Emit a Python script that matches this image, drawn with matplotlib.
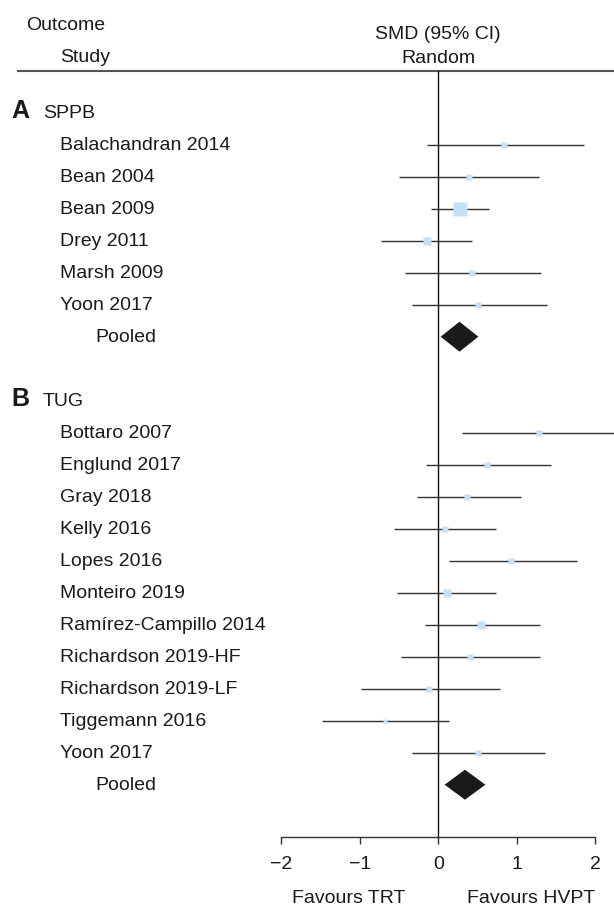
import matplotlib.pyplot as plt
import numpy as np

plt.rcParams['font.family'] = ['Liberation Sans', 'DejaVu Sans']

# SPPB outcome (panel A)
sppb_studies = ['Balachandran 2014', 'Bean 2004', 'Bean 2009', 'Drey 2011',
                'Marsh 2009', 'Yoon 2017']
sppb_smd = [0.84, 0.39, 0.28, -0.15, 0.43, 0.51]
sppb_lo = [-0.15, -0.50, -0.09, -0.73, -0.42, -0.34]
sppb_hi = [1.85, 1.28, 0.65, 0.43, 1.31, 1.39]
sppb_weight = [7.1, 8.5, 53.0, 15.1, 11.5, 7.1]
sppb_pooled = [0.27, 0.03, 0.51]

# TUG outcome (panel B)
tug_studies = ['Bottaro 2007', 'Englund 2017', 'Gray 2018', 'Kelly 2016',
               'Lopes 2016', 'Monteiro 2019', 'Ramírez-Campillo 2014',
               'Richardson 2019-HF', 'Richardson 2019-LF', 'Tiggemann 2016',
               'Yoon 2017']
tug_smd = [1.28, 0.62, 0.37, 0.09, 0.93, 0.11, 0.55, 0.40, -0.12, -0.68, 0.51]
tug_lo = [0.30, -0.16, -0.27, -0.56, 0.14, -0.52, -0.17, -0.48, -0.98, -1.48, -0.34]
tug_hi = [2.30, 1.43, 1.05, 0.73, 1.77, 0.74, 1.30, 1.29, 0.78, 0.14, 1.36]
tug_weight = [8.5, 11.5, 10.0, 10.0, 10.0, 13.3, 13.3, 10.0, 8.5, 4.8, 8.5]
tug_pooled = [0.34, 0.08, 0.60]

x_ticks = [-2, -1, 0, 1, 2]

W, H = 614, 917
ZERO_PX = 438.3   # pixel column of SMD = 0
UNIT_PX = 78.5    # pixels per SMD unit
ROW0 = 112.7      # first header row (pixels from top)
ROW_H = 32        # row spacing
AXIS_Y = 836.7
TEXT_C = '#1a1a1a'
LINE_C = '#333333'
SQ_C = '#c6e0f5'
FS = 14


def px(x):
    return (x - ZERO_PX) / UNIT_PX


fig = plt.figure(figsize=(W / 100, H / 100), dpi=100)
ax = fig.add_axes([0, 0, 1, 1])
ax.set_xlim(px(0), px(W))
ax.set_ylim(H, 0)


def draw_group(slot, letter, outcome, studies, smd, lo, hi, weights, pooled):
    # subgroup header
    y = ROW0 + ROW_H * slot
    ax.text(px(11), y + 5.6, letter, fontsize=18, fontweight='bold',
            va='baseline', color=TEXT_C)
    ax.text(px(43), y + 5.6, outcome, fontsize=FS, va='baseline', color=TEXT_C)

    for i in range(len(studies)):
        y = ROW0 + ROW_H * (slot + 1 + i)
        ax.text(px(60), y + 5.4, studies[i], fontsize=FS, va='baseline',
                color=TEXT_C)
        ax.plot([lo[i], hi[i]], [y, y], color=LINE_C, lw=1.0,
                solid_capstyle='butt', zorder=1)
        side = 2.06 * np.sqrt(weights[i]) * 0.72
        ax.plot(smd[i], y, marker='s', ms=side, mfc=SQ_C, mec='none', zorder=3)

    # pooled estimate
    y = ROW0 + ROW_H * (slot + 1 + len(studies))
    ax.text(px(95), y + 5.4, 'Pooled', fontsize=FS, va='baseline', color=TEXT_C)
    est, l, h = pooled
    ax.fill([l, est, h, est], [y, y - 15, y, y + 15], color='#1a1a1a',
            lw=0, zorder=4)


# column headers
ax.text(px(26.5), 30, 'Outcome', fontsize=FS, va='baseline', color=TEXT_C)
ax.text(px(60), 62, 'Study', fontsize=FS, va='baseline', color=TEXT_C)
ax.text(0, 39, 'SMD (95% CI)', fontsize=FS, ha='center', va='baseline',
        color=TEXT_C)
ax.text(0, 63, 'Random', fontsize=FS, ha='center', va='baseline', color=TEXT_C)
ax.plot([px(18), px(W)], [70.7, 70.7], color='#555555', lw=1.5)

# line of no effect
ax.plot([0, 0], [70.7, AXIS_Y], color='#111111', lw=1.0, zorder=2)

draw_group(0, 'A', 'SPPB', sppb_studies, sppb_smd, sppb_lo, sppb_hi,
           sppb_weight, sppb_pooled)
draw_group(9, 'B', 'TUG', tug_studies, tug_smd, tug_lo, tug_hi,
           tug_weight, tug_pooled)

# bottom axis
for s in ['top', 'left', 'right']:
    ax.spines[s].set_visible(False)
ax.spines['bottom'].set_position(('data', AXIS_Y))
ax.spines['bottom'].set_bounds(-2, 2)
ax.spines['bottom'].set_color(LINE_C)
ax.spines['bottom'].set_linewidth(1.0)
ax.set_xticks(x_ticks)
ax.set_xticklabels(['\u22122', '\u22121', '0', '1', '2'])
ax.set_yticks([])
ax.tick_params(axis='x', direction='out', length=5, width=1.0, pad=9,
               labelsize=FS, colors=LINE_C, labelcolor=TEXT_C)

ax.text(px(349), 903, 'Favours TRT', fontsize=FS, ha='center', va='baseline',
        color=TEXT_C)
ax.text(px(531.5), 903, 'Favours HVPT', fontsize=FS, ha='center',
        va='baseline', color=TEXT_C)

fig.savefig('out.png', dpi=100)
